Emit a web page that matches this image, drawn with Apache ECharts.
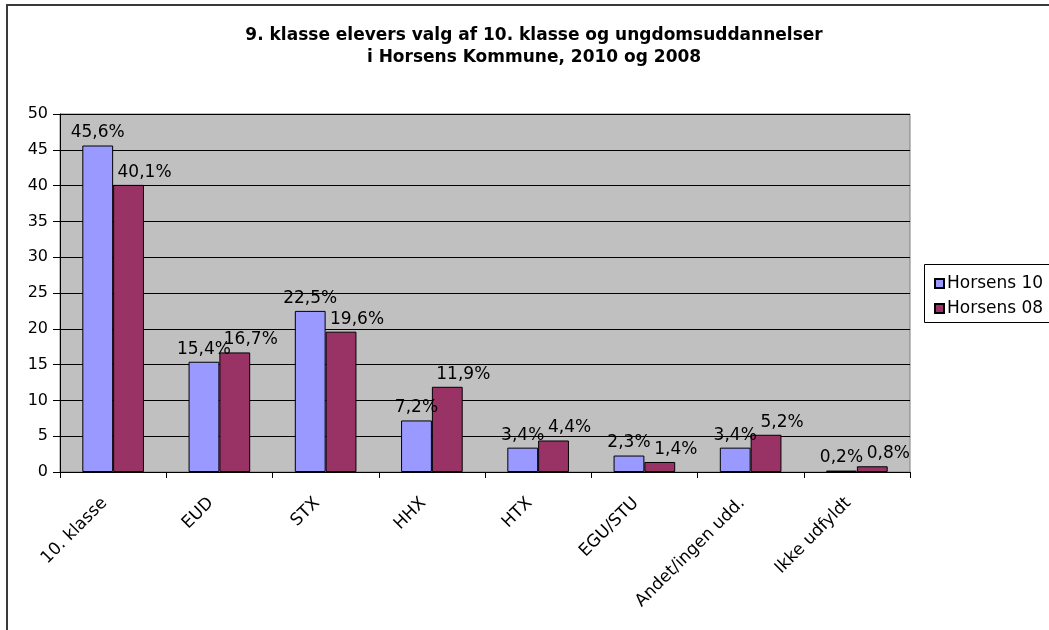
<!DOCTYPE html>
<html>
<head>
<meta charset="utf-8">
<script src="https://cdn.jsdelivr.net/npm/echarts@6/dist/echarts.min.js"></script>
<style>
  html, body { margin: 0; padding: 0; background: #fff; }
  #chart { width: 1049px; height: 630px; }
</style>
</head>
<body>
<div id="chart"></div>
<script>
const categories = ["10. klasse", "EUD", "STX", "HHX", "HTX", "EGU/STU", "Andet/ingen udd.", "Ikke udfyldt"];
const horsens10 = [45.6, 15.4, 22.5, 7.2, 3.4, 2.3, 3.4, 0.2];
const horsens08 = [40.1, 16.7, 19.6, 11.9, 4.4, 1.4, 5.2, 0.8];
const yTicks = { min: 0, max: 50, interval: 5 };

const font = "DejaVu Sans";
const pct = (p) => p.value.toFixed(1).replace(".", ",") + "%";

const chart = echarts.init(document.getElementById("chart"));

const barLabel = (dx) => ({
  show: true,
  position: "top",
  distance: 4,
  offset: [dx, 0],
  color: "#000",
  fontFamily: font,
  fontSize: 17,
  formatter: pct,
});

chart.setOption({
  animation: false,
  textStyle: { fontFamily: font },
  title: {
    text: "9. klasse elevers valg af 10. klasse og ungdomsuddannelser\ni Horsens Kommune, 2010 og 2008",
    left: 529,
    textAlign: "center",
    top: 20,
    textStyle: {
      fontFamily: font,
      fontWeight: "bold",
      fontSize: 17,
      lineHeight: 22,
      color: "#000",
    },
  },
  graphic: [
    {
      type: "rect",
      shape: { x: 7, y: 5, width: 1100, height: 700 },
      style: { fill: "none", stroke: "#3a3a3a", lineWidth: 2 },
      silent: true,
    },
    {
      type: "rect",
      shape: { x: 924.5, y: 264.5, width: 200, height: 58 },
      style: { fill: "#fff", stroke: "#000", lineWidth: 1 },
      silent: true,
      z: 5,
    },
  ],
  legend: {
    orient: "vertical",
    left: 929,
    top: 270,
    icon: "rect",
    itemWidth: 9,
    itemHeight: 9,
    itemGap: 8,
    z: 10,
    textStyle: { fontFamily: font, fontSize: 17, color: "#000", padding: [0, 0, 0, -2] },
    data: ["Horsens 10", "Horsens 08"],
  },
  grid: {
    left: 60,
    top: 114,
    right: 139,
    bottom: 158,
    show: true,
    backgroundColor: "#c0c0c0",
    borderColor: "#808080",
    borderWidth: 1,
  },
  xAxis: {
    type: "category",
    data: categories,
    axisLine: { lineStyle: { color: "#000", width: 1 } },
    axisTick: { show: true, length: 6, lineStyle: { color: "#000" } },
    axisLabel: {
      rotate: 45,
      color: "#000",
      fontFamily: font,
      fontSize: 17,
      margin: 20,
      padding: [0, 12, 0, 0],
    },
  },
  yAxis: {
    type: "value",
    min: yTicks.min,
    max: yTicks.max,
    interval: yTicks.interval,
    axisLine: { show: true, lineStyle: { color: "#000", width: 1 } },
    axisTick: { show: true, length: 7, lineStyle: { color: "#000" } },
    axisLabel: { color: "#000", fontFamily: font, fontSize: 16, margin: 12 },
    splitLine: { lineStyle: { color: "#000", width: 1 } },
  },
  series: [
    {
      name: "Horsens 10",
      type: "bar",
      data: horsens10,
      barGap: "0%",
      barCategoryGap: "42%",
      itemStyle: { color: "#9999ff", borderColor: "#000", borderWidth: 1 },
      label: barLabel(0),
    },
    {
      name: "Horsens 08",
      type: "bar",
      data: horsens08,
      itemStyle: { color: "#993366", borderColor: "#000", borderWidth: 1 },
      label: barLabel(16),
    },
  ],
});
</script>
</body>
</html>
